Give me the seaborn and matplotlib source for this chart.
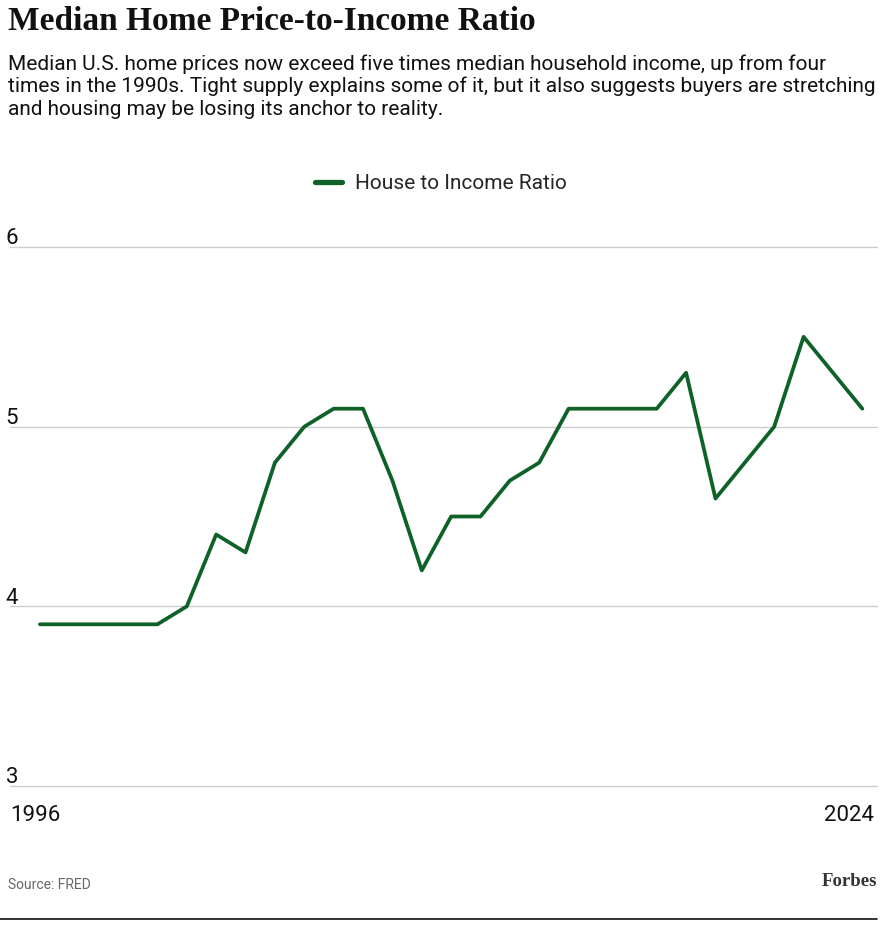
"""Median home price-to-income ratio, Forbes style line chart."""

import numpy as np
import pandas as pd
import matplotlib
matplotlib.use('Agg')
import matplotlib.pyplot as plt
import matplotlib.transforms as mtransforms
import seaborn as sns

years = list(range(1996, 2025))
ratio = [3.9, 3.9, 3.9, 3.9, 3.9, 4.0, 4.4, 4.3, 4.8, 5.0,
         5.1, 5.1, 4.7, 4.2, 4.5, 4.5, 4.7, 4.8, 5.1, 5.1,
         5.1, 5.1, 5.3, 4.6, 4.8, 5.0, 5.5, 5.3, 5.1]
y_ticks = [3, 4, 5, 6]
series_name = 'House to Income Ratio'

title = 'Median Home Price-to-Income Ratio'
subtitle = ('Median U.S. home prices now exceed five times median household income, up from four\n'
            'times in the 1990s. Tight supply explains some of it, but it also suggests buyers are stretching\n'
            'and housing may be losing its anchor to reality.')
source = 'Source: FRED'

df = pd.DataFrame({'year': years, 'ratio': ratio, 'series': series_name})

sns.set_style('white')
plt.rcParams['font.family'] = ['Roboto', 'DejaVu Sans']

fig = plt.figure(figsize=(8.84, 9.34), dpi=100)
ax = fig.add_axes([10 / 884, 1 - 786 / 934, 867 / 884, (786 - 247) / 934])

green = '#0e6228'
sns.lineplot(data=df, x='year', y='ratio', hue='series', palette=[green],
             linewidth=2.7, ax=ax, legend=True)

ax.set_xlim(1994.98, 2024.5)
ax.set_ylim(3, 6)
ax.set_yticks(y_ticks)
ax.set_yticklabels([])
ax.set_xticks([])
ax.set_xlabel('')
ax.set_ylabel('')
ax.grid(axis='y', color='#cccccc', linewidth=1)
ax.set_axisbelow(True)
for g in ax.get_ygridlines():
    g.set_clip_on(False)
for s in ax.spines.values():
    s.set_visible(False)
ax.tick_params(length=0)

# y labels sit just above the gridlines on the left
trans = mtransforms.blended_transform_factory(ax.transAxes, ax.transData)
for t in y_ticks:
    ax.text(-0.005, t + 0.015, str(t), transform=trans, ha='left', va='baseline',
            fontsize=16, color='#111111')

# first and last year only
ax.text(0.0, -0.035, str(years[0]), transform=ax.transAxes, ha='left', va='top',
        fontsize=16, color='#111111')
ax.text(0.996, -0.035, str(years[-1]), transform=ax.transAxes, ha='right', va='top',
        fontsize=16, color='#111111')

leg = ax.legend(loc='lower center', bbox_to_anchor=(0.497, 1.065), frameon=False,
                fontsize=15, handlelength=1.3, handletextpad=0.6)
for line in leg.get_lines():
    line.set_linewidth(3.8)

fig.text(8 / 884, 1 - 22 / 934, title, family='Liberation Serif', weight='bold',
         fontsize=24, ha='left', va='center', color='#111111')
fig.text(8 / 884, 1 - 54 / 934, subtitle, fontsize=15, ha='left', va='top',
         color='#111111', linespacing=1.22)
fig.text(8 / 884, 1 - 885 / 934, source, fontsize=10, ha='left', va='center', color='#666666')
fig.text(877 / 884, 1 - 882 / 934, 'Forbes', family='Liberation Serif', weight='bold',
         fontsize=13.5, ha='right', va='center', color='#333333')
fig.add_artist(plt.Line2D([0, 877 / 884], [1 - 919 / 934] * 2, color='#111111',
                          linewidth=1.2, transform=fig.transFigure))

plt.savefig('out.png', dpi=100)
print('Saved: out.png')
